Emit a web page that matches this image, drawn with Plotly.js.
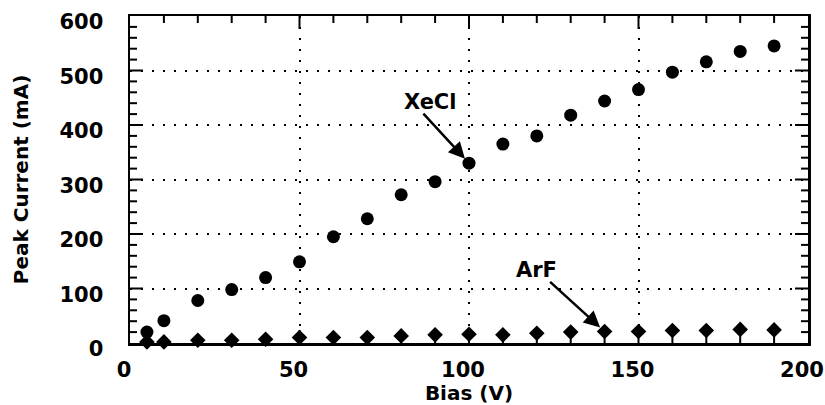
<!DOCTYPE html>
<html>
<head>
<meta charset="utf-8">
<script src="https://cdn.plot.ly/plotly-3.0.1.min.js"></script>
<style>html,body{margin:0;padding:0;background:#fff;}</style>
</head>
<body>
<div id="chart" style="width:825px;height:405px;"></div>
<script>
// Data
const biasV = [5,10,20,30,40,50,60,70,80,90,100,110,120,130,140,150,160,170,180,190];
const xeclCurrent = [20,41,78,98,120,149,195,228,272,296,330,365,380,418,444,465,497,516,535,545];
const arfCurrent = [2,2,5,5,7,10,10,10,13,15,16,15,18,20,21,21,23,23,25,24];
const xAxisTitle = 'Bias (V)';
const yAxisTitle = 'Peak Current (mA)';
const seriesNames = ['XeCl','ArF'];

const FONT = 'DejaVu Sans, Liberation Sans, Arial, sans-serif';
const X_RANGE = [0, 200];
const Y_RANGE = [0, 600];
const X_MAJOR = 50, X_MINOR = 10, Y_MAJOR = 100, Y_MINOR = 20;

const traces = [
  {
    x: biasV, y: xeclCurrent, name: seriesNames[0],
    type: 'scatter', mode: 'markers', cliponaxis: false,
    marker: {symbol: 'circle', size: 13, color: '#000'}
  },
  {
    x: biasV, y: arfCurrent, name: seriesNames[1],
    type: 'scatter', mode: 'markers', cliponaxis: false,
    marker: {symbol: 'diamond', size: 12, color: '#000'}
  }
];

// Inward tick marks on all four frame edges, placed through the axis scales
const tickShapes = [];
const tickLine = {color: '#000', width: 2};
for (let v = X_RANGE[0] + X_MINOR; v < X_RANGE[1]; v += X_MINOR) {
  const len = (v % X_MAJOR === 0) ? 13 : 7;
  tickShapes.push({type: 'line', layer: 'above', xref: 'x', x0: v, x1: v, yref: 'paper', ysizemode: 'pixel', yanchor: 0, y0: 0, y1: len, line: tickLine});
  tickShapes.push({type: 'line', layer: 'above', xref: 'x', x0: v, x1: v, yref: 'paper', ysizemode: 'pixel', yanchor: 1, y0: 0, y1: -len, line: tickLine});
}
for (let v = Y_RANGE[0] + Y_MINOR; v < Y_RANGE[1]; v += Y_MINOR) {
  const len = (v % Y_MAJOR === 0) ? 13 : 7;
  tickShapes.push({type: 'line', layer: 'above', yref: 'y', y0: v, y1: v, xref: 'paper', xsizemode: 'pixel', xanchor: 0, x0: 0, x1: len, line: tickLine});
  tickShapes.push({type: 'line', layer: 'above', yref: 'y', y0: v, y1: v, xref: 'paper', xsizemode: 'pixel', xanchor: 1, x0: 0, x1: -len, line: tickLine});
}

function mainAxis(extra) {
  return Object.assign({
    showline: true, linecolor: '#000', linewidth: 2.5, mirror: true,
    ticks: '',
    showgrid: true, gridcolor: '#000', gridwidth: 2, griddash: '2px,9px',
    zeroline: false, ticklabeloverflow: 'allow',
    tickfont: {family: FONT, size: 21, color: '#000', weight: 'bold'}
  }, extra);
}

const layout = {
  width: 825, height: 405,
  margin: {l: 130, r: 17, t: 16, b: 62},
  paper_bgcolor: '#fff', plot_bgcolor: 'rgba(0,0,0,0)',
  showlegend: false,
  font: {family: FONT, color: '#000'},
  xaxis: mainAxis({
    range: X_RANGE, tickmode: 'linear', tick0: 0, dtick: X_MAJOR, ticklabelshift: -6, ticklabelstandoff: 6,
    title: {text: xAxisTitle, standoff: 2, font: {family: FONT, size: 20, color: '#000', weight: 'bold'}}
  }),
  yaxis: mainAxis({
    range: Y_RANGE, tickmode: 'linear', tick0: 0, dtick: Y_MAJOR, ticklabelshift: 6,
    ticklabelstandoff: 20,
    title: {text: yAxisTitle, standoff: 26, font: {family: FONT, size: 20, color: '#000', weight: 'bold'}}
  }),
  shapes: tickShapes,
  annotations: [
    {x: 100, y: xeclCurrent[10], xref: 'x', yref: 'y', text: '', showarrow: true,
     ax: -47, ay: -51, arrowhead: 2, arrowsize: 1.3, arrowwidth: 2.5, arrowcolor: '#000', standoff: 6},
    {x: 88.5, y: 442, xref: 'x', yref: 'y', text: seriesNames[0], showarrow: false,
     font: {family: FONT, size: 21, color: '#000', weight: 'bold'}},
    {x: 140, y: arfCurrent[14], xref: 'x', yref: 'y', text: '', showarrow: true,
     ax: -56, ay: -51, arrowhead: 2, arrowsize: 1.3, arrowwidth: 2.5, arrowcolor: '#000', standoff: 6},
    {x: 120, y: 134, xref: 'x', yref: 'y', text: seriesNames[1], showarrow: false,
     font: {family: FONT, size: 21, color: '#000', weight: 'bold'}}
  ]
};

Plotly.newPlot('chart', traces, layout, {displayModeBar: false, staticPlot: true});
</script>
</body>
</html>
